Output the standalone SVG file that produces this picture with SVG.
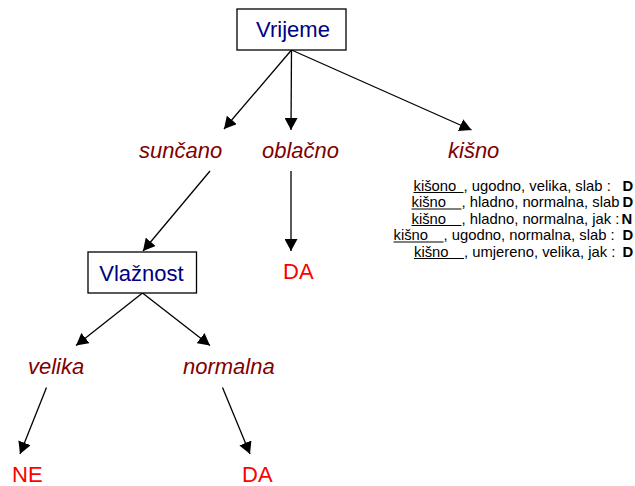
<svg xmlns="http://www.w3.org/2000/svg" width="635" height="486" viewBox="0 0 635 486">
  <style>
    .box { fill: #ffffff; stroke: #000000; stroke-width: 1.3; }
    .attr { font-family: "Liberation Sans", Arial, sans-serif; font-size: 22px; fill: #000080; }
    .val { font-family: "Liberation Sans", Arial, sans-serif; font-size: 22px; font-style: italic; fill: #800000; }
    .leaf { font-family: "Liberation Sans", Arial, sans-serif; font-size: 22px; fill: #ff0000; }
    .edge { stroke: #000000; stroke-width: 1.3; fill: none; marker-end: url(#arrow); }
    .row { font-family: "Liberation Sans", Arial, sans-serif; font-size: 14.8px; fill: #000000; }
    .cls { font-weight: bold; }
    .ul { stroke: #000000; stroke-width: 1; }
  </style>
  <defs>
    <marker id="arrow" markerUnits="userSpaceOnUse" markerWidth="13" markerHeight="13" refX="12" refY="6.5" orient="auto">
      <path d="M0,0 L12,6.5 L0,13 z" fill="#000000"/>
    </marker>
  </defs>
  <rect width="635" height="486" fill="#ffffff"/>

  <!-- connectors -->
  <g id="connectors">
    <line class="edge" x1="291.5" y1="50" x2="224" y2="129"/>
    <line class="edge" x1="291.5" y1="50" x2="291" y2="130"/>
    <line class="edge" x1="291.5" y1="50" x2="471.5" y2="130"/>
    <line class="edge" x1="210" y1="171" x2="143" y2="251"/>
    <line class="edge" x1="291" y1="171" x2="291" y2="251"/>
    <line class="edge" x1="142.5" y1="293" x2="76" y2="345.5"/>
    <line class="edge" x1="142.5" y1="293" x2="210" y2="345.5"/>
    <line class="edge" x1="46.5" y1="387.5" x2="20" y2="454"/>
    <line class="edge" x1="222.5" y1="387.5" x2="250" y2="454"/>
  </g>

  <!-- attribute nodes -->
  <g id="vrijeme">
    <rect class="box" x="237" y="9" width="109" height="41"/>
    <text class="attr" x="293" y="36.5" text-anchor="middle">Vrijeme</text>
  </g>
  <g id="vlaznost">
    <rect class="box" x="88" y="252" width="108.5" height="41"/>
    <text class="attr" x="141.5" y="281" text-anchor="middle">Vlažnost</text>
  </g>

  <!-- branch values -->
  <g id="suncano"><text class="val" x="139" y="157.5">sunčano</text></g>
  <g id="oblacno"><text class="val" x="262" y="157.5">oblačno</text></g>
  <g id="kisno"><text class="val" x="448" y="157.5">kišno</text></g>
  <g id="velika"><text class="val" x="28" y="374">velika</text></g>
  <g id="normalna"><text class="val" x="183" y="374">normalna</text></g>

  <!-- leaves -->
  <g id="da-oblacno"><text class="leaf" x="283" y="279">DA</text></g>
  <g id="ne-velika"><text class="leaf" x="12" y="482">NE</text></g>
  <g id="da-normalna"><text class="leaf" x="242" y="482">DA</text></g>

  <!-- examples under kišno: underlined value field, remaining attributes, class -->
  <g id="kisno-examples">
    <text class="row" x="413.5" y="190.5">kišono</text>
    <text class="row" x="463.5" y="190.5">, ugodno, velika, slab :</text>
    <text class="row cls" x="622.5" y="190.5">D</text>
    <line class="ul" x1="413.5" y1="192.5" x2="463.5" y2="192.5"/>

    <text class="row" x="411.5" y="207">kišno</text>
    <text class="row" x="461.5" y="207">, hladno, normalna, slab</text>
    <text class="row cls" x="622.5" y="207">D</text>
    <line class="ul" x1="411.5" y1="209" x2="461.5" y2="209"/>

    <text class="row" x="411.5" y="223.5">kišno</text>
    <text class="row" x="461.5" y="223.5">, hladno, normalna, jak :</text>
    <text class="row cls" x="621.5" y="223.5">N</text>
    <line class="ul" x1="411.5" y1="225.5" x2="461.5" y2="225.5"/>

    <text class="row" x="393.5" y="240">kišno</text>
    <text class="row" x="443.5" y="240">, ugodno, normalna, slab :</text>
    <text class="row cls" x="622.5" y="240">D</text>
    <line class="ul" x1="393.5" y1="242" x2="443.5" y2="242"/>

    <text class="row" x="414" y="256.5">kišno</text>
    <text class="row" x="464" y="256.5">, umjereno, velika, jak :</text>
    <text class="row cls" x="622.5" y="256.5">D</text>
    <line class="ul" x1="414" y1="258.5" x2="464" y2="258.5"/>
  </g>
</svg>
